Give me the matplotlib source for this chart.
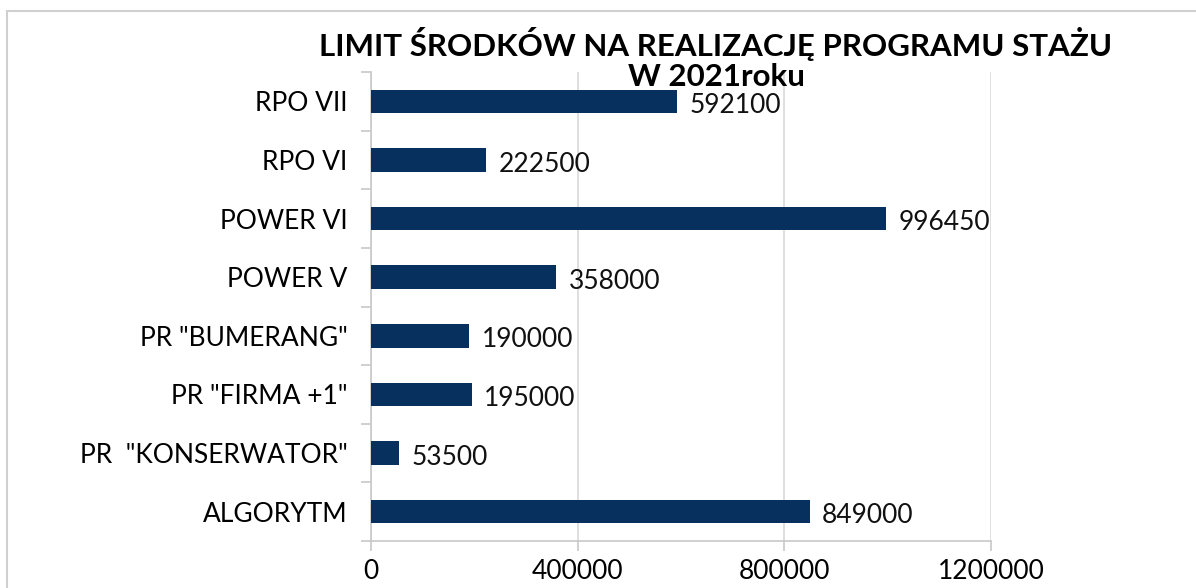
import matplotlib
matplotlib.use("Agg")
import matplotlib.pyplot as plt
from matplotlib.patches import Rectangle

categories = ["ALGORYTM", 'PR  "KONSERWATOR"', 'PR "FIRMA +1"', 'PR "BUMERANG"',
              "POWER V", "POWER VI", "RPO VI", "RPO VII"]
values = [849000, 53500, 195000, 190000, 358000, 996450, 222500, 592100]
xticks = [0, 400000, 800000, 1200000]
title_line1 = "LIMIT ŚRODKÓW NA REALIZACJĘ PROGRAMU STAŻU"
title_line2 = "W 2021roku"

W, H = 1196, 588
fig = plt.figure(figsize=(W / 100, H / 100), dpi=100)
fig.patch.set_facecolor("white")

# border
fig.add_artist(Rectangle((7 / W, -0.1), 2.0, 1 - 11 / H + 0.1, transform=fig.transFigure,
                         fill=False, edgecolor="#d0d0d0", linewidth=1.5))

left, right, top, bottom = 371, 991, 72, 541
ax = fig.add_axes([left / W, 1 - bottom / H, (right - left) / W, (bottom - top) / H])

bar_color = "#08305e"
ypos = list(range(len(categories)))
ax.barh(ypos, values, height=0.4, color=bar_color, zorder=3)

ax.set_xlim(0, 1200000)
ax.set_ylim(-0.5, len(categories) - 0.5)
ax.set_xticks(xticks)
ax.set_xticklabels([str(v) for v in xticks], fontsize=19, family="Lato")
ax.set_yticks(ypos)
ax.set_yticklabels(categories, fontsize=19, family="Lato")
ax.tick_params(axis="y", which="major", length=0, pad=17)
ax.set_yticks([i - 0.5 for i in range(len(categories) + 1)], minor=True)
ax.tick_params(axis="y", which="minor", length=7, color="#c8c8c8", width=1.2)
ax.tick_params(axis="x", length=7, color="#c8c8c8", width=1.2, pad=6)

ax.grid(axis="x", color="#d9d9d9", linewidth=1.2, zorder=0)
for s in ["top", "right"]:
    ax.spines[s].set_visible(False)
for s in ["left", "bottom"]:
    ax.spines[s].set_color("#c8c8c8")
    ax.spines[s].set_linewidth(1.2)

for y, v in zip(ypos, values):
    ax.annotate(str(v), (v, y), xytext=(9, -3), textcoords="offset points",
                ha="left", va="center", fontsize=19, family="Lato", color="#111111", zorder=4)

fig.text(716 / W, 1 - 44 / H, title_line1, ha="center", va="center",
         fontsize=22.5, fontweight="bold", family="Lato", color="#000000")
fig.text(716 / W, 1 - 77 / H, title_line2, ha="center", va="center",
         fontsize=22.5, fontweight="bold", family="Lato", color="#000000", zorder=5)

fig.savefig("out.png", dpi=100)
